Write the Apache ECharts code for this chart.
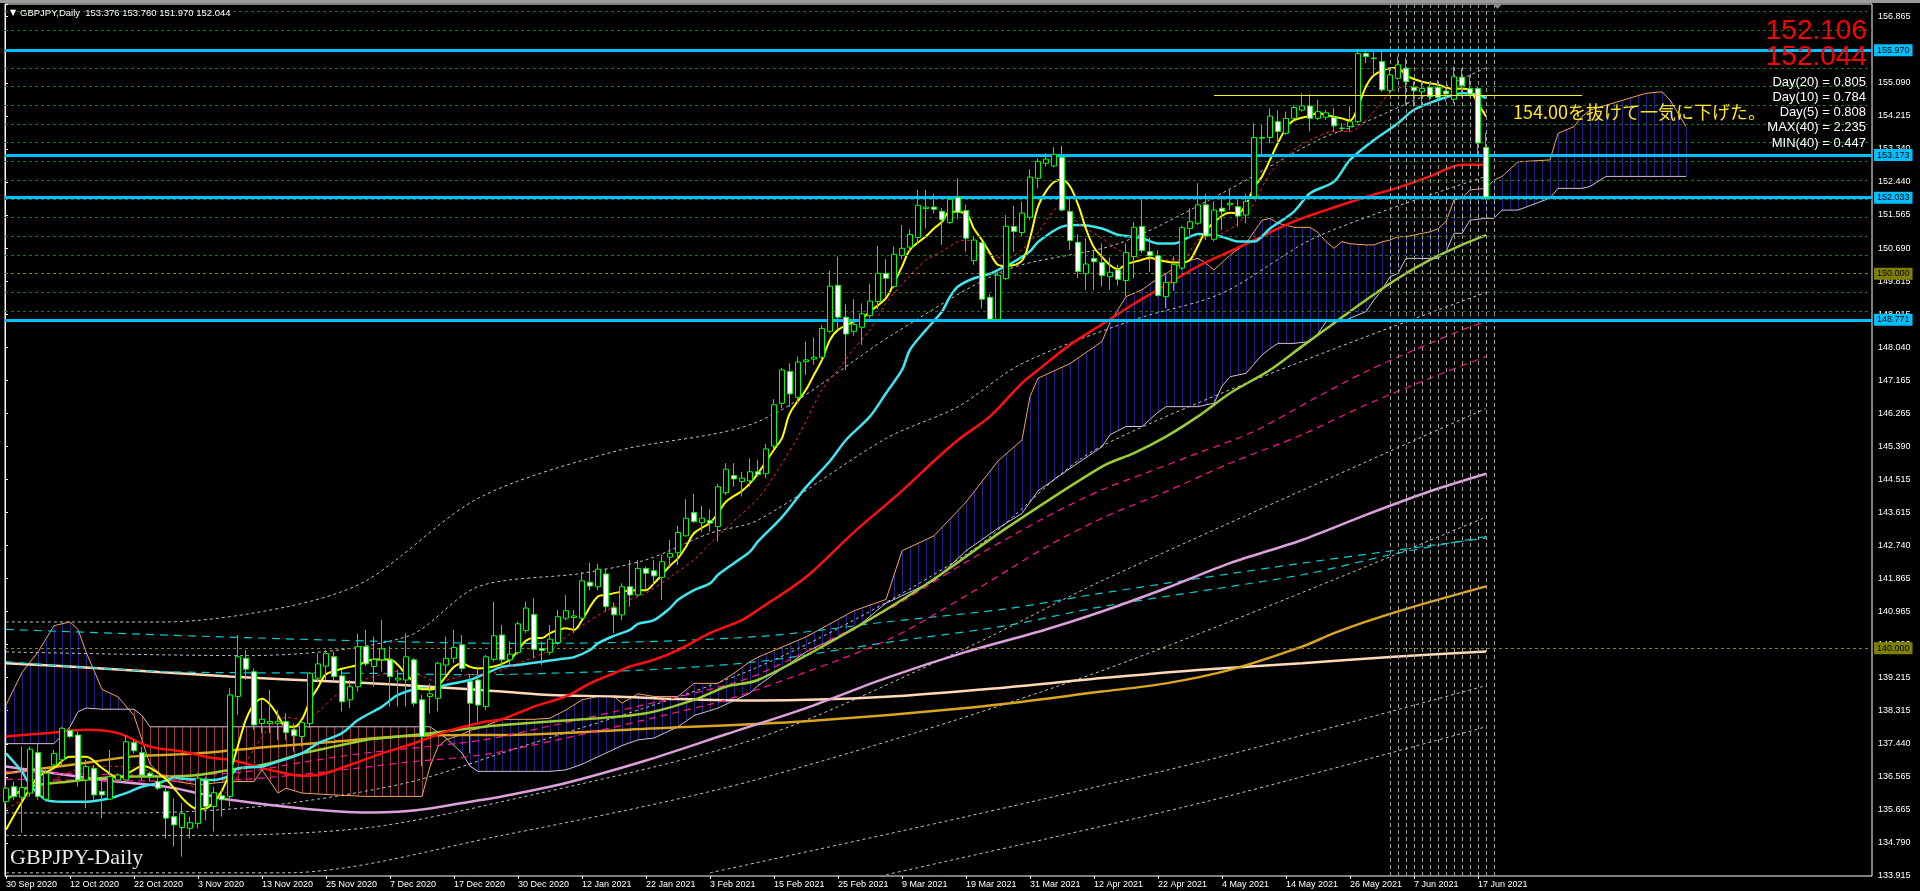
<!DOCTYPE html>
<html><head><meta charset="utf-8">
<script src="https://cdn.jsdelivr.net/npm/echarts/dist/echarts.min.js"></script>
<style>html,body{margin:0;padding:0;background:#000;overflow:hidden}#c{width:1920px;height:891px}</style>
</head><body><div id="c"></div><script>
// ---------------- DATA ----------------
const dateLabels = ['30 Sep 2020','12 Oct 2020','22 Oct 2020','3 Nov 2020','13 Nov 2020','25 Nov 2020','7 Dec 2020','17 Dec 2020','30 Dec 2020','12 Jan 2021','22 Jan 2021','3 Feb 2021','15 Feb 2021','25 Feb 2021','9 Mar 2021','19 Mar 2021','31 Mar 2021','12 Apr 2021','22 Apr 2021','4 May 2021','14 May 2021','26 May 2021','7 Jun 2021','17 Jun 2021'];
const yTickLabels = ['133.915','134.790','135.665','136.565','137.440','138.315','139.215','140.090','140.965','141.865','142.740','143.615','144.515','145.390','146.265','147.165','148.040','148.915','149.815','150.690','151.565','152.440','153.340','154.215','155.090','155.990','156.865'];

const opens = [135.90,136.30,136.02,136.13,137.21,135.97,136.88,137.02,137.80,137.68,
136.48,136.79,136.17,135.97,136.48,136.48,137.48,137.21,136.66,136.44,
136.17,135.50,135.21,135.19,135.32,136.48,135.77,136.06,136.04,138.71,
139.73,139.37,137.99,137.99,137.99,138.04,137.82,137.64,137.99,139.20,
139.52,139.77,139.26,138.62,138.97,140.04,139.51,139.69,139.69,139.15,
139.15,139.69,138.62,138.71,138.66,139.55,139.73,140.09,139.11,139.15,
138.44,139.70,140.35,139.69,139.88,140.47,140.90,139.99,139.89,140.15,
140.80,140.82,140.80,141.76,141.64,141.98,141.08,140.89,141.64,141.42,
142.13,142.07,141.89,142.43,142.55,143.00,143.62,143.35,143.41,143.25,
144.15,144.61,144.45,144.47,144.71,144.66,145.40,146.54,147.39,146.70,
147.65,147.72,147.77,148.46,149.69,148.84,148.46,148.57,148.88,149.26,
150.01,149.66,150.49,150.71,150.97,151.74,151.78,151.67,151.37,152.04,
151.69,150.35,150.83,149.37,148.78,149.87,151.26,151.10,151.51,152.55,
152.95,152.88,153.11,151.66,150.84,150.00,150.41,150.30,149.92,150.10,
149.82,150.46,151.26,150.59,150.48,149.39,149.76,150.15,151.21,151.35,
151.84,150.92,151.75,151.84,151.79,151.57,152.06,153.62,153.64,154.06,
153.75,154.15,154.37,154.48,154.15,154.18,154.18,153.89,153.93,154.06,
155.88,155.76,155.67,154.89,155.22,155.49,154.98,154.86,154.98,154.98,
154.88,154.66,155.25,154.95,154.95,153.376];
const highs = [136.35,136.44,137.37,137.37,137.46,136.75,137.28,137.90,137.86,137.77,
137.02,136.88,136.48,137.28,136.66,137.68,137.55,137.37,136.70,136.53,
136.30,135.99,135.86,135.50,136.66,136.57,136.30,136.21,138.93,140.35,
139.95,139.46,138.62,138.88,138.35,138.26,137.99,138.08,139.37,139.86,
139.95,139.91,139.42,139.15,140.39,140.49,140.31,140.75,140.04,139.42,
140.40,139.73,138.75,139.06,139.64,140.31,140.49,140.35,139.29,139.51,
139.82,141.24,140.62,140.18,140.71,141.24,141.33,140.18,140.62,141.02,
141.42,141.02,142.04,142.28,142.25,142.13,141.22,141.73,142.36,142.36,
142.18,142.36,142.49,142.89,143.26,143.98,144.12,143.80,143.71,144.38,
144.94,144.94,144.71,145.07,145.03,145.45,146.65,147.48,147.61,147.79,
148.19,148.30,148.63,150.08,150.46,149.19,149.32,149.21,149.73,150.74,
150.39,150.73,151.30,151.19,152.24,152.24,152.13,151.75,152.06,152.55,
151.84,150.99,150.90,149.46,150.10,151.57,151.81,151.93,152.79,153.08,
153.22,153.38,153.41,152.06,151.06,150.95,150.62,150.81,150.44,150.24,
150.81,151.37,151.99,150.97,150.63,149.97,150.46,151.28,151.75,152.42,
152.13,151.93,152.03,152.24,151.97,152.13,154.02,153.97,154.42,154.36,
154.33,154.51,154.82,154.80,154.64,154.37,154.42,154.02,154.46,155.97,
155.97,155.93,155.93,155.49,155.80,155.76,155.13,155.13,155.13,155.18,
154.98,155.53,155.49,155.27,154.99,153.760];
const lows = [135.84,135.95,135.07,136.04,135.95,135.90,136.84,136.84,137.59,136.30,
135.72,135.95,135.46,135.95,136.39,136.44,137.19,136.48,136.44,136.21,
134.92,134.70,134.43,134.92,135.19,135.41,135.10,135.50,135.77,138.22,
139.15,137.82,137.73,137.73,137.55,137.55,137.24,137.37,137.86,139.11,
139.15,139.11,138.31,138.40,138.84,139.51,138.97,139.37,138.44,138.44,
138.44,138.44,136.84,138.26,138.31,139.24,139.60,139.37,137.19,138.04,
138.35,139.64,139.46,139.51,139.82,140.40,139.73,139.55,139.82,140.09,
140.75,140.40,140.75,141.55,141.55,140.98,140.40,140.75,141.11,141.38,
141.55,141.69,141.29,142.18,142.22,142.98,143.34,143.11,143.11,142.85,
144.09,144.31,144.05,144.31,144.58,144.55,145.30,146.41,146.44,146.54,
147.30,147.57,147.70,148.41,148.50,147.43,148.34,148.10,148.81,149.05,
149.39,149.61,150.39,150.59,150.81,151.21,151.61,150.77,151.33,151.45,
150.59,150.24,149.08,148.771,148.78,149.83,150.59,151.01,151.44,152.28,
152.86,152.84,151.66,150.64,149.88,149.57,149.57,149.66,149.57,149.68,
149.39,149.88,150.55,150.04,149.39,149.08,149.55,150.10,151.04,151.30,
150.90,150.86,151.17,151.70,151.26,151.35,152.02,153.17,153.49,153.49,
153.71,154.11,154.33,153.80,154.11,154.11,153.80,153.84,153.80,154.02,
155.62,155.31,154.86,154.82,155.18,154.51,154.46,154.42,154.64,154.64,
154.60,154.55,154.73,154.73,153.13,151.970];
const closes = [136.26,136.04,136.28,137.30,136.04,136.66,137.19,137.86,137.64,136.48,
136.84,136.08,136.08,136.57,136.61,137.50,137.26,136.61,136.57,136.26,
135.46,135.28,135.59,135.34,136.53,135.77,136.14,135.95,138.75,139.77,
139.44,137.95,138.10,138.04,138.04,137.75,137.66,138.01,139.33,139.58,
139.86,139.24,138.57,138.97,140.04,139.58,139.70,139.98,139.24,139.20,
139.77,138.53,137.64,138.78,139.60,139.73,140.02,139.46,138.53,138.48,
139.77,140.33,139.69,139.84,140.65,141.07,139.97,139.94,140.24,140.84,
141.00,140.86,141.80,141.66,142.11,141.11,140.89,141.64,141.42,142.13,
142.00,141.93,142.31,142.53,143.09,143.47,143.38,143.47,143.34,144.31,
144.78,144.52,144.54,144.71,144.64,145.32,146.50,147.43,146.79,147.64,
147.70,147.77,148.54,149.67,148.84,148.39,148.65,148.93,149.27,150.01,
149.88,150.52,150.68,151.05,151.83,151.78,151.72,151.44,151.99,151.64,
150.95,150.90,149.32,148.78,149.96,151.27,151.13,151.62,152.58,153.00,
153.06,153.19,151.70,150.89,150.06,150.26,150.32,149.95,150.04,149.85,
150.57,151.24,150.62,150.48,149.42,149.77,150.25,151.23,151.39,151.84,
151.01,151.70,151.66,151.88,151.54,151.93,153.64,153.64,154.21,153.80,
154.15,154.44,154.48,154.15,154.33,154.30,153.95,153.88,154.06,155.88,
155.80,155.75,154.91,155.31,155.58,155.13,154.89,154.95,154.73,154.71,
154.80,155.26,155.02,154.80,153.49,152.044];

// indicator lines: [bar index, price]
const maYellow = [[0,135.15],[2,135.9],[4,136.55],[6,136.8],[8,137.1],[10,137.1],[12,136.8],[14,136.55],[16,136.75],[17,136.85],[18,136.8],[20,136.5],[22,136.0],[23,135.8],[24,135.7],[25,135.72],[26,135.9],[27,136.2],[28,136.7],[29,137.4],[30,138.1],[31,138.5],[32,138.65],[33,138.5],[34,138.2],[35,137.9],[36,137.9],[37,138.1],[38,138.6],[39,138.95],[40,139.3],[42,139.45],[44,139.55],[46,139.7],[48,139.7],[49,139.55],[50,139.3],[51,139.1],[52,138.9],[53,138.9],[54,139.0],[55,139.25],[56,139.5],[57,139.6],[58,139.5],[59,139.46],[61,139.51],[63,139.69],[64,139.95],[65,140.2],[66,140.27],[67,140.27],[68,140.4],[70,140.53],[71,140.49],[72,140.75],[74,141.38],[75,141.42],[76,141.47],[78,141.54],[80,141.55],[81,141.73],[83,142.2],[84,142.4],[85,142.71],[86,143.07],[88,143.35],[89,143.6],[90,143.91],[92,144.2],[93,144.4],[94,144.67],[96,145.3],[97,145.61],[98,146.28],[100,146.9],[101,147.3],[102,147.7],[103,148.23],[104,148.5],[106,148.72],[107,148.8],[108,148.99],[110,149.35],[111,149.75],[112,150.19],[113,150.64],[115,151.0],[116,151.21],[117,151.39],[118,151.66],[120,151.6],[121,151.2],[122,150.9],[123,150.55],[124,150.24],[125,150.21],[127,150.35],[128,150.95],[129,151.79],[130,152.2],[131,152.45],[132,152.51],[133,152.33],[134,151.85],[135,151.2],[136,150.7],[137,150.45],[138,150.23],[139,150.12],[140,150.25],[142,150.37],[143,150.43],[144,150.37],[146,150.3],[147,150.3],[148,150.37],[149,150.75],[150,151.15],[152,151.55],[153,151.63],[154,151.61],[155,151.85],[156,152.3],[157,152.6],[158,153.04],[159,153.5],[160,153.88],[161,154.1],[163,154.22],[164,154.3],[165,154.24],[167,154.15],[168,154.09],[169,154.46],[170,155.0],[171,155.3],[173,155.49],[174,155.5],[175,155.3],[176,155.2],[177,155.13],[179,155.05],[180,154.98],[181,154.93],[182,154.95],[183,154.89],[184,154.55],[185,154.2]];
const maRedDash = [[0,135.7],[4,136.2],[8,136.7],[12,136.85],[16,136.8],[20,136.6],[24,136.25],[27,136.1],[29,136.6],[31,137.3],[33,137.9],[35,138.15],[37,138.1],[39,138.3],[41,138.7],[44,139.1],[48,139.35],[50,139.4],[52,139.25],[54,139.1],[56,139.2],[58,139.3],[60,139.3],[64,139.6],[68,139.95],[70,140.3],[72,140.6],[75,141.0],[78,141.3],[80,141.47],[83,141.9],[86,142.36],[88,142.8],[91,143.4],[94,144.0],[96,144.6],[99,145.65],[102,146.9],[104,147.43],[106,148.0],[108,148.5],[110,149.21],[113,149.95],[115,150.37],[117,150.6],[119,150.86],[120,150.9],[122,150.75],[123,150.5],[125,150.41],[127,150.64],[129,151.1],[131,151.7],[132,151.84],[134,151.35],[137,150.95],[139,150.64],[142,150.41],[144,150.37],[147,150.37],[149,150.9],[152,151.08],[154,151.35],[156,151.88],[158,152.68],[161,153.31],[163,153.57],[166,153.8],[168,153.8],[170,154.1],[173,154.82],[175,155.0],[178,154.95],[182,154.95],[183,154.9],[184,154.5],[185,154.3]];
const maCyan = [[0,137.19],[2,136.7],[3,136.35],[5,135.95],[7,135.9],[10,135.9],[13,135.99],[15,136.13],[17,136.3],[19,136.39],[21,136.53],[23,136.5],[26,136.48],[28,136.6],[29,136.79],[32,136.84],[34,136.97],[37,137.19],[39,137.46],[42,137.73],[44,138.08],[47,138.44],[49,138.75],[52,138.93],[53,138.9],[55,139.02],[58,139.15],[60,139.33],[62,139.5],[64,139.55],[67,139.64],[69,139.7],[71,139.76],[73,139.95],[74,140.13],[76,140.33],[78,140.49],[79,140.65],[81,140.75],[83,141.07],[84,141.29],[86,141.55],[88,141.73],[89,141.96],[91,142.27],[93,142.58],[94,142.85],[97,143.5],[100,144.3],[103,145.0],[105,145.56],[108,146.19],[110,146.81],[112,147.43],[113,147.97],[115,148.5],[117,148.99],[118,149.39],[119,149.66],[121,149.88],[123,150.0],[124,150.1],[126,150.32],[128,150.6],[129,150.85],[132,151.26],[134,151.3],[137,151.21],[139,151.04],[142,150.95],[144,150.81],[146,150.81],[148,150.99],[149,151.06],[152,150.99],[154,150.86],[156,150.86],[158,151.21],[161,151.66],[163,152.15],[166,152.46],[168,153.04],[171,153.57],[174,154.02],[176,154.38],[179,154.64],[181,154.78],[182,154.82],[184,154.78],[185,154.69]];
const maRed = [[0,137.64],[5,137.73],[10,137.82],[14,137.73],[18,137.37],[22,137.24],[26,137.06],[28,137.02],[33,136.75],[37,136.59],[39,136.61],[43,136.88],[47,137.19],[51,137.46],[55,137.77],[60,138.04],[62,138.1],[66,138.44],[70,138.71],[73,139.06],[76,139.33],[78,139.51],[81,139.69],[84,139.95],[88,140.4],[92,140.75],[94,141.02],[100,141.9],[106,143.1],[112,144.2],[116,145.0],[119,145.56],[123,146.19],[127,147.08],[129,147.43],[133,148.1],[137,148.65],[141,149.2],[145,149.7],[149,150.2],[153,150.6],[157,151.0],[161,151.4],[165,151.7],[170,152.05],[174,152.3],[178,152.6],[182,152.91],[185,152.91]];
const maYellowGreen = [[0,135.95],[3,136.3],[8,136.44],[12,136.53],[16,136.57],[20,136.57],[24,136.61],[28,136.75],[33,136.93],[37,137.19],[41,137.37],[45,137.55],[49,137.64],[53,137.73],[58,137.86],[62,137.95],[74,138.13],[80,138.26],[86,138.62],[90,138.97],[94,139.15],[105,140.4],[115,141.7],[125,143.2],[137,144.85],[141,145.21],[145,145.65],[149,146.19],[153,146.81],[158,147.43],[162,148.06],[166,148.68],[170,149.3],[174,149.88],[178,150.37],[182,150.77],[185,151.03]];
const maPlum = [[0,136.84],[3,136.75],[12,136.48],[20,136.3],[24,136.13],[28,135.95],[37,135.72],[45,135.61],[49,135.63],[53,135.72],[58,135.9],[62,136.04],[70,136.4],[80,137.0],[90,137.7],[100,138.4],[110,139.2],[120,139.9],[130,140.5],[137,140.98],[145,141.6],[153,142.27],[162,142.89],[170,143.56],[178,144.19],[185,144.66]];
const maGold = [[0,136.66],[8,136.88],[16,137.11],[24,137.19],[33,137.37],[41,137.5],[49,137.64],[58,137.68],[62,137.68],[80,137.85],[100,138.05],[120,138.4],[137,138.84],[145,139.06],[153,139.42],[162,140.04],[166,140.4],[170,140.71],[176,141.11],[185,141.65]];
const maPeach = [[0,139.6],[12,139.46],[28,139.24],[41,139.11],[49,139.02],[58,138.9],[62,138.84],[68,138.75],[76,138.71],[84,138.64],[94,138.6],[110,138.7],[125,138.95],[137,139.2],[149,139.42],[162,139.6],[174,139.78],[185,139.91]];
const cyanDashUp = [[0,140.5],[20,140.35],[40,140.22],[62,140.13],[68,140.13],[94,140.31],[110,140.7],[125,141.05],[137,141.47],[162,142.27],[185,142.94]];
const cyanDashLo = [[0,139.64],[20,139.37],[45,139.33],[59,139.29],[68,139.33],[80,139.42],[94,139.64],[110,140.15],[125,140.6],[137,141.11],[162,141.96],[174,142.54],[185,142.98]];
const pinkDashUp = [[0,136.7],[20,136.6],[30,136.7],[37,136.95],[45,137.2],[54,137.4],[61,137.6],[88,138.9],[94,139.3],[110,141.0],[120,142.3],[130,143.5],[137,144.23],[143,144.72],[149,145.21],[156,145.79],[164,146.72],[170,147.39],[176,147.96],[182,148.5],[185,148.72]];
const pinkDashLo = [[0,136.5],[20,136.45],[30,136.5],[40,136.7],[50,136.95],[61,137.2],[88,138.5],[94,138.9],[110,140.2],[120,141.4],[130,142.7],[137,143.47],[145,144.18],[153,144.94],[162,145.7],[170,146.5],[178,147.21],[185,147.79]];
const band1 = [[0,140.7],[20,140.7],[35,141.1],[45,141.8],[59,144.0],[76,145.25],[94,146.05],[111,148.4],[125,150.1],[139,150.8],[152,152.15],[164,153.57],[170,154.06],[185,155.5]];
const band2 = [[0,139.9],[30,139.8],[50,140.3],[59,141.64],[72,142.0],[80,142.36],[88,143.07],[94,143.42],[110,145.6],[119,146.45],[127,147.6],[141,148.77],[152,149.48],[164,151.0],[185,152.6]];
const band3 = [[0,135.6],[16,135.6],[33,135.8],[50,136.4],[62,137.2],[94,139.5],[120,142.5],[137,145.4],[185,149.5]];
const band4 = [[0,135.0],[25,135.0],[45,135.2],[62,135.9],[94,137.6],[120,140.0],[137,141.8],[185,146.4]];
const band5 = [[0,134.0],[35,134.0],[62,135.0],[94,136.5],[137,139.4],[185,143.5]];
const band6 = [[88,134.0],[120,135.5],[150,137.0],[185,139.0]];
const band7 = [[110,133.95],[150,135.9],[185,137.9]];

// Ichimoku cloud (span A / span B at the same bar indices)
const cloudIdx = [0,2,4,6,8,9,10,12,14,16,17,18,20,24,28,31,32,34,35,37,41,45,52,53,54,55,57,58,59,62,66,68,70,72,74,76,77,79,81,84,86,89,91,93,94,100,106,110,112,116,120,124,127,128,129,133,137,138,140,142,144,145,147,149,150,151,152,153,155,157,158,159,161,163,164,165,166,167,168,170,171,172,173,174,175,178,179,180,181,182,183,185,186,187,189,193,194,196,197,198,200,205,207,208,210];
const spanA = [138.48,139.35,139.9,140.6,140.7,140.5,139.9,138.9,138.7,138.2,137.55,136.9,136.48,136.35,136.44,136.44,136.75,136.13,136.26,136.13,136.08,136.04,136.04,136.84,137.37,137.55,137.7,137.8,137.85,138.1,138.1,138.13,138.35,138.62,138.71,138.71,138.53,138.78,138.71,138.71,139.06,139.06,139.33,139.64,139.76,140.3,141.0,141.3,142.6,143.0,143.9,145.0,145.56,146.72,147.21,147.6,148.19,148.7,149.39,149.57,149.88,150.0,150.3,150.41,150.28,150.1,150.3,150.5,150.81,151.43,151.48,151.35,151.24,151.24,151.1,150.86,150.68,150.86,150.8,150.77,150.77,150.85,150.9,150.99,150.99,151.12,151.2,151.39,151.97,152.01,152.24,152.28,152.5,152.6,152.99,153.04,153.75,153.93,154.2,154.37,154.5,154.82,154.86,154.64,153.93];
const spanB = [137.45,137.45,137.45,137.45,137.9,138.3,138.4,138.37,138.37,138.37,138.2,137.9,137.9,137.9,137.9,137.9,137.9,137.9,137.9,137.9,137.9,137.9,137.9,137.9,137.75,137.6,137.2,136.85,136.71,136.71,136.71,136.71,136.75,136.9,137.1,137.3,137.4,137.55,137.6,137.9,138.2,138.4,138.6,138.8,139.0,139.9,140.5,141.2,141.4,141.8,142.6,143.2,143.6,143.9,144.2,144.8,145.38,145.7,145.92,145.92,146.3,146.45,146.45,146.45,146.5,146.54,147.0,147.25,147.34,147.83,148.0,148.14,148.14,148.19,148.4,148.72,148.72,148.72,148.81,148.99,149.3,149.57,149.92,150.01,150.41,150.41,150.41,150.59,151.08,151.08,151.43,151.48,151.48,151.7,151.7,152.02,152.28,152.28,152.28,152.33,152.6,152.6,152.6,152.6,152.6];

const blueLevels = [155.970, 153.173, 152.033, 148.771];
const oliveLevels = [150.000, 140.000];
const greenLevels = [149.0,149.5,150.5,151.0,151.5,152.0,152.5,153.0,153.5,154.0,154.5,155.0,155.5,156.0,156.5,157.0];
const trendLine = [[151,154.76],[197,154.76]];
const markedBars = [173,174,175,176,177,178,179,180,181,182,183,184,185,186];
const header = ['GBPJPY,Daily', '153.376', '153.760', '151.970', '152.044'];
const bigPrices = ['152.106', '152.044'];
const statLines = ['Day(20) = 0.805','Day(10) = 0.784','Day(5) = 0.808','MAX(40) = 2.235','MIN(40) = 0.447'];
const noteText = '154.00を抜けて一気に下げた。';

// ---------------- LAYOUT ----------------
const NCAT = 234;
const Y_MIN = 133.915, Y_STEP = 0.8826923, Y_MAX = 133.915 + 872 / (33.05 / 0.8826923);
const categories = Array.from({length: NCAT}, (_, i) => (i % 8 === 0 && i / 8 < dateLabels.length) ? dateLabels[i / 8] : String(i));
const labelShown = (i) => i % 8 === 0 && i / 8 < dateLabels.length;
const FONT = '"Liberation Sans", Arial, sans-serif';

function lineS(pts, color, width, type, z, smooth) {
  return {type: 'line', xAxisIndex: 0, yAxisIndex: 0, data: pts, symbol: 'none', smooth: smooth || false,
    lineStyle: {color: color, width: width, type: type || 'solid'}, z: z || 3, silent: true, animation: false};
}

const levelMarks = [];
greenLevels.forEach(v => levelMarks.push({yAxis: v, lineStyle: {color: '#127a12', width: 1, type: [3, 3]}, label: {show: false}}));
oliveLevels.forEach(v => levelMarks.push({yAxis: v, lineStyle: {color: '#8a8a00', width: 1, type: [3, 3]},
  label: {show: true, position: 'end', distance: 2, formatter: v.toFixed(3), backgroundColor: '#808000', color: '#000', fontSize: 9, fontFamily: FONT, padding: [2, 3, 1, 3]}}));
blueLevels.forEach(v => levelMarks.push({yAxis: v, lineStyle: {color: '#00bfff', width: 3, type: 'solid'},
  label: {show: true, position: 'end', distance: 2, formatter: v.toFixed(3), backgroundColor: '#00bfff', color: '#000', fontSize: 9, fontFamily: FONT, padding: [2, 3, 1, 3]}}));

const hatch = {
  type: 'custom', xAxisIndex: 0, yAxisIndex: 0, z: 1, silent: true, animation: false,
  data: cloudIdx.slice(0, -1).map((x, k) => [x, spanA[k]]),
  renderItem: function (params, api) {
    const k = params.dataIndex;
    const x0 = cloudIdx[k], x1 = cloudIdx[k + 1];
    const last = (k === cloudIdx.length - 2);
    const ch = [];
    for (let x = x0; x < x1 || (last && x === x1); x++) {
      const t = (x - x0) / (x1 - x0);
      const a = spanA[k] + (spanA[k + 1] - spanA[k]) * t;
      const b = spanB[k] + (spanB[k + 1] - spanB[k]) * t;
      const p1 = api.coord([x, a]), p2 = api.coord([x, b]);
      const xx = Math.round(p1[0]) + 0.5;
      ch.push({type: 'line', shape: {x1: xx, y1: p1[1], x2: xx, y2: p2[1]},
        style: {stroke: a >= b ? '#262690' : '#973a3a', lineWidth: 1}});
    }
    return {type: 'group', children: ch};
  }
};

const graphics = [
  {type: 'rect', shape: {x: 0, y: 0, width: 1920, height: 3}, style: {fill: '#9a9a9a'}, z: 10},
  {type: 'polygon', shape: {points: [[1493, 4], [1502, 4], [1497.5, 9]]}, style: {fill: '#8a8a8a'}, z: 10},
  {type: 'text', x: 10, y: 13, style: {text: '▼', fill: '#fff', font: '8px "DejaVu Sans"', textVerticalAlign: 'middle', verticalAlign: 'middle'}, z: 10},
  {type: 'text', x: 20, y: 13, style: {text: header[0] + '  ' + header.slice(1).join(' '), fill: '#fff', font: '9.5px ' + FONT, textVerticalAlign: 'middle', verticalAlign: 'middle'}, z: 10},
  {type: 'text', x: 10, y: 858, style: {text: 'GBPJPY-Daily', fill: '#eaeaea', font: '22px "Liberation Serif", "Times New Roman", serif', textVerticalAlign: 'middle', verticalAlign: 'middle'}, z: 10},
  {type: 'text', x: 1867, y: 31, style: {text: bigPrices[0], fill: '#ff0000', font: '28px ' + FONT, textAlign: 'right', align: 'right', textVerticalAlign: 'middle', verticalAlign: 'middle'}, z: 12},
  {type: 'text', x: 1867, y: 57, style: {text: bigPrices[1], fill: '#ff0000', font: '28px ' + FONT, textAlign: 'right', align: 'right', textVerticalAlign: 'middle', verticalAlign: 'middle'}, z: 12},
  {type: 'text', x: 1513, y: 112, style: {text: noteText, fill: '#ffe61e', font: '18px "Noto Sans CJK JP", sans-serif', textVerticalAlign: 'middle', verticalAlign: 'middle'}, z: 12}
];
statLines.forEach((s, k) => graphics.push({type: 'text', x: 1866, y: 82 + k * 15.25,
  style: {text: s, fill: '#ffffff', font: '13px ' + FONT, textAlign: 'right', align: 'right', textVerticalAlign: 'middle', verticalAlign: 'middle'}, z: 12}));

const option = {
  backgroundColor: '#000',
  animation: false,
  grid: [
    {left: 2, right: 46, top: 4, bottom: 15, show: false},
    {left: 5, right: 48, top: 4, bottom: 15, show: true, borderColor: '#ffffff', borderWidth: 1, backgroundColor: 'transparent'}
  ],
  xAxis: [
    {type: 'category', gridIndex: 0, data: categories, boundaryGap: true,
      axisLine: {show: false},
      axisTick: {show: true, alignWithLabel: true, interval: labelShown, length: 3, lineStyle: {color: '#fff'}},
      axisLabel: {show: true, interval: labelShown, color: '#fff', fontSize: 9, fontFamily: FONT, align: 'left', margin: 4},
      splitLine: {show: false}},
    {type: 'value', gridIndex: 1, min: 0, max: 1, show: false}
  ],
  yAxis: [
    {type: 'value', gridIndex: 0, min: Y_MIN, max: Y_MAX, show: false, splitLine: {show: false}},
    {type: 'value', gridIndex: 1, position: 'right', min: Y_MIN, max: Y_MAX, interval: Y_STEP,
      axisLine: {show: true, lineStyle: {color: '#fff'}},
      axisTick: {show: true, length: 3, lineStyle: {color: '#fff'}},
      axisLabel: {show: true, color: '#fff', fontSize: 9, fontFamily: FONT, margin: 6,
        formatter: function (v) {
          const k = Math.round((v - Y_MIN) / Y_STEP);
          if (Math.abs(v - (Y_MIN + k * Y_STEP)) > 0.01) return '';
          return yTickLabels[k] || '';
        }},
      splitLine: {show: false}}
  ],
  series: [
    hatch,
    {type: 'line', xAxisIndex: 0, yAxisIndex: 0, data: [], silent: true, z: 2,
      markLine: {symbol: ['none', 'none'], silent: true, animation: false, label: {show: false},
        data: markedBars.map(i => ({xAxis: i})), lineStyle: {color: '#a0a0a0', width: 1, type: [4, 3]}}},
    lineS(band1, '#c4c4c4', 1, [3, 3], 2, 0.3),
    lineS(band2, '#c4c4c4', 1, [3, 3], 2, 0.3),
    lineS(band3, '#c4c4c4', 1, [3, 3], 2, 0.3),
    lineS(band4, '#c4c4c4', 1, [3, 3], 2, 0.3),
    lineS(band5, '#c4c4c4', 1, [3, 3], 2, 0.3),
    lineS(band6, '#c4c4c4', 1, [3, 3], 2, 0.3),
    lineS(band7, '#c4c4c4', 1, [3, 3], 2, 0.3),
    lineS(cloudIdx.map((x, k) => [x, spanA[k]]), '#f4a460', 1, 'solid', 3, false),
    lineS(cloudIdx.map((x, k) => [x, spanB[k]]), '#d8bfd8', 1, 'solid', 3, false),
    lineS(maPeach, '#ffdab9', 2.5, 'solid', 3, 0.3),
    lineS(maGold, '#daa520', 2.5, 'solid', 3, 0.3),
    lineS(cyanDashUp, '#00ced1', 1.2, [8, 6], 3, 0.3),
    lineS(cyanDashLo, '#00ced1', 1.2, [8, 6], 3, 0.3),
    lineS(maPlum, '#dda0dd', 2.5, 'solid', 3, 0.3),
    lineS(pinkDashUp, '#ff1493', 1.2, [7, 5], 3, 0.3),
    lineS(pinkDashLo, '#ff1493', 1.2, [7, 5], 3, 0.3),
    lineS(maYellowGreen, '#9acd32', 2.5, 'solid', 3, 0.3),
    lineS(maRed, '#ff1010', 2.5, 'solid', 4, 0.3),
    lineS(maCyan, '#3fe6f2', 2.5, 'solid', 4, 0.3),
    lineS(maRedDash, '#ff2020', 1, [3, 3], 4, 0.3),
    lineS(maYellow, '#ffff00', 2, 'solid', 4, 0.35),
    {type: 'candlestick', xAxisIndex: 0, yAxisIndex: 0, barWidth: 5, z: 6, silent: true,
      data: opens.map((o, i) => [o, closes[i], lows[i], highs[i]]),
      itemStyle: {color: '#000', color0: '#fff', borderColor: '#00ff00', borderColor0: '#00ff00', borderWidth: 1}},
    lineS(trendLine, '#ffff00', 1, 'solid', 7, false),
    {type: 'line', xAxisIndex: 1, yAxisIndex: 1, data: [], silent: true, z: 8,
      markLine: {symbol: ['none', 'none'], silent: true, animation: false, data: levelMarks}}
  ],
  graphic: graphics
};

const chart = echarts.init(document.getElementById('c'), null, {renderer: 'canvas'});
chart.setOption(option);
</script></body></html>
